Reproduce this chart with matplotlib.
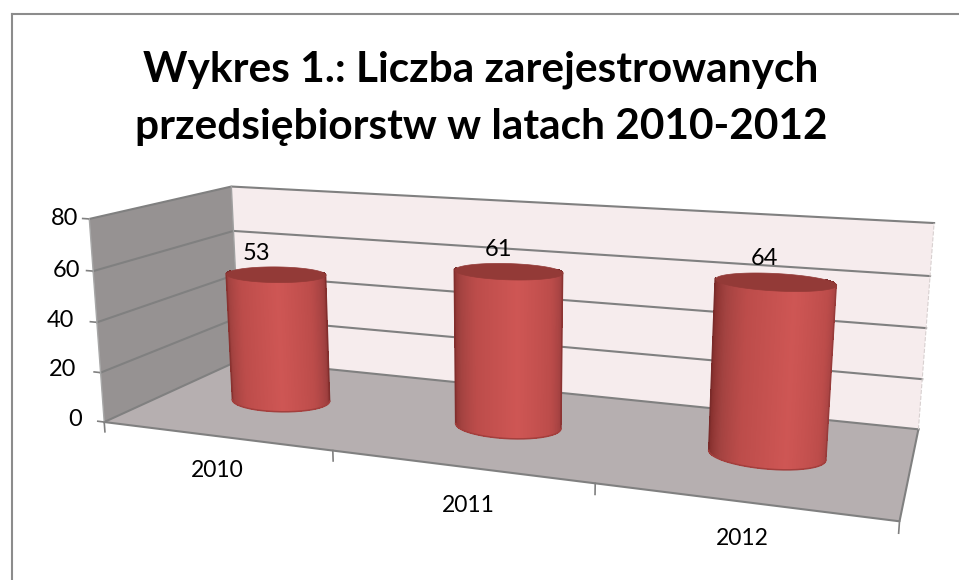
import numpy as np
import matplotlib
matplotlib.use('Agg')
from matplotlib import pyplot as plt
from matplotlib.colors import to_rgb
from matplotlib.lines import Line2D
from mpl_toolkits.mplot3d import proj3d
from mpl_toolkits.mplot3d.art3d import Poly3DCollection

plt.rcParams['font.family'] = ['Lato', 'DejaVu Sans']

years = ['2010', '2011', '2012']
counts = [53, 61, 64]
y_ticks = [0, 20, 40, 60, 80]
title = 'Wykres 1.: Liczba zarejestrowanych\nprzedsiębiorstw w latach 2010-2012'

GRID = '#808080'
RED_TOP = '#933A37'
AZIM = -69.949

fig = plt.figure(figsize=(9.59, 5.8), dpi=100)
fig.patch.set_facecolor('white')

# camera found by fitting the box corners to the picture
ax = fig.add_axes([0.08497, -0.29616, 0.86624, 1.43226], projection='3d', computed_zorder=False)
ax.view_init(elev=13.408, azim=AZIM, roll=-0.038)
ax.set_proj_type('persp', focal_length=0.2945)
ax.set_box_aspect((2.9888, 1, 0.7992))
n = len(years)
ax.set_xlim(0, n)
ax.set_ylim(0, 1)
ax.set_zlim(0, y_ticks[-1])
ax.set_xticks([])
ax.set_yticks([])
ax.set_zticks([])
ax.set_axis_off()
ax.patch.set_alpha(0)
top = y_ticks[-1]

# walls and floor
def wall(verts, color):
    ax.add_collection3d(Poly3DCollection([verts], facecolors=color, edgecolors='none', zorder=1))

wall([(0, 0, 0), (0, 1, 0), (0, 1, top), (0, 0, top)], '#969292')
wall([(0, 1, 0), (n, 1, 0), (n, 1, top), (0, 1, top)], '#F6ECED')
wall([(0, 0, 0), (n, 0, 0), (n, 1, 0), (0, 1, 0)], '#B6AFB0')

# gridlines and value ticks, Excel put the labels a bit unevenly
label_x = [-0.105, -0.115, -0.105, -0.057, -0.049]
for v, lx in zip(y_ticks, label_x):
    ax.plot([0, 0, n], [0, 1, 1], [v, v, v], color=GRID, lw=1.5, zorder=2)
    ax.plot([-0.03, 0], [0, 0], [v, v], color=GRID, lw=1.2, zorder=2)
    ax.text(lx, 0, v, str(v), ha='right', va='center', fontsize=17, color='black', zorder=6)

ax.plot([0, n, n], [0, 0, 1], [0, 0, 0], color=GRID, lw=1.5, zorder=2)
ax.plot([0, 0], [0, 0], [0, top], color='#A8A8A8', lw=1, zorder=2)
ax.plot([0, 0], [1, 1], [0, top], color='#A0A0A0', lw=1, zorder=2)
ax.plot([n, n], [1, 1], [0, top], color='#D8D0D0', lw=0.8, ls='--', zorder=2)

# category ticks and labels
for i in range(n + 1):
    ax.plot([i, i], [0, 0], [0, -4], color=GRID, lw=1.2, zorder=2)
year_x = [0.72, 1.67, 2.56]
year_y = [-0.33, -0.34, -0.31]
for year, yx, yy in zip(years, year_x, year_y):
    ax.text(yx, yy, 0, year, ha='center', va='center', fontsize=16.5, color='black', zorder=6)

# cylinders, only the side that faces the camera
rx, ry = 0.21, 0.155
stop_angle = [-110, -85, -65, -40, 5, 45, 70, 85, 110]
stop_color = np.array([to_rgb(c) for c in ['#702626', '#8A3230', '#A24240', '#BC4C4A', '#CE5654',
                                           '#BC4C4A', '#A04040', '#8A3230', '#682424']])
theta = np.radians(np.linspace(AZIM - 110, AZIM + 110, 221))
circle = np.linspace(-np.pi, np.pi, 121)
off = np.degrees((theta[:-1] + theta[1:]) / 2) - AZIM
shade = np.column_stack([np.interp(off, stop_angle, stop_color[:, c]) for c in range(3)])
face = np.column_stack([shade, np.ones(len(off))])[None, :, :]

label_dx = [-0.085, -0.04, -0.04]
M = ax.get_proj()
for i, v in enumerate(counts):
    cx = i + 0.5
    xs = cx + rx * np.cos(theta)
    ys = 0.5 + ry * np.sin(theta)
    X = np.array([xs, xs])
    Y = np.array([ys, ys])
    Z = np.array([np.zeros_like(theta), np.full_like(theta, v)])
    ax.plot_surface(X, Y, Z, rstride=1, cstride=1, facecolors=face, shade=False,
                    linewidth=0, antialiased=False, zorder=3 + 0.1 * i)

    # smooth outline over the hard pixel edge of the surface
    u = proj3d.proj_transform(xs, ys, np.zeros_like(xs), M)[0]
    left, right = np.argmin(u), np.argmax(u)
    lo, hi = min(left, right), max(left, right)
    for k in (left, right):
        ax.plot([xs[k], xs[k]], [ys[k], ys[k]], [0, v], lw=1.1, zorder=3.2 + 0.1 * i,
                color=shade[min(k, len(shade) - 1)])
    ax.plot(xs[lo:hi + 1], ys[lo:hi + 1], np.zeros(hi + 1 - lo), color='#A33F3D', lw=1.1, zorder=3.2 + 0.1 * i)

    cap = list(zip(cx + rx * np.cos(circle), 0.5 + ry * np.sin(circle), np.full_like(circle, v)))
    ax.add_collection3d(Poly3DCollection([cap], facecolors=RED_TOP, edgecolors=RED_TOP, linewidths=0.5,
                                         zorder=3.5 + 0.1 * i))
    ax.text(cx + label_dx[i], 0.5, v + 8, str(v), ha='center', va='center', fontsize=17, color='black', zorder=6)

# the box reaches past the axes on the right
for art in ax.collections + ax.lines + ax.texts:
    art.set_clip_on(False)

# chart frame, only top and left are in the picture
fig.add_artist(Line2D([11.5 / 959, 1], [1 - 13.5 / 580] * 2, color='#8C8C8C', lw=1.5))
fig.add_artist(Line2D([11.5 / 959] * 2, [0, 1 - 13.5 / 580], color='#8C8C8C', lw=1.5))

fig.text(481 / 959, 1 - 98 / 580, title, ha='center', va='center', fontsize=30.5, fontweight='bold',
         color='black', linespacing=1.62)

fig.savefig('out.png', dpi=100)
